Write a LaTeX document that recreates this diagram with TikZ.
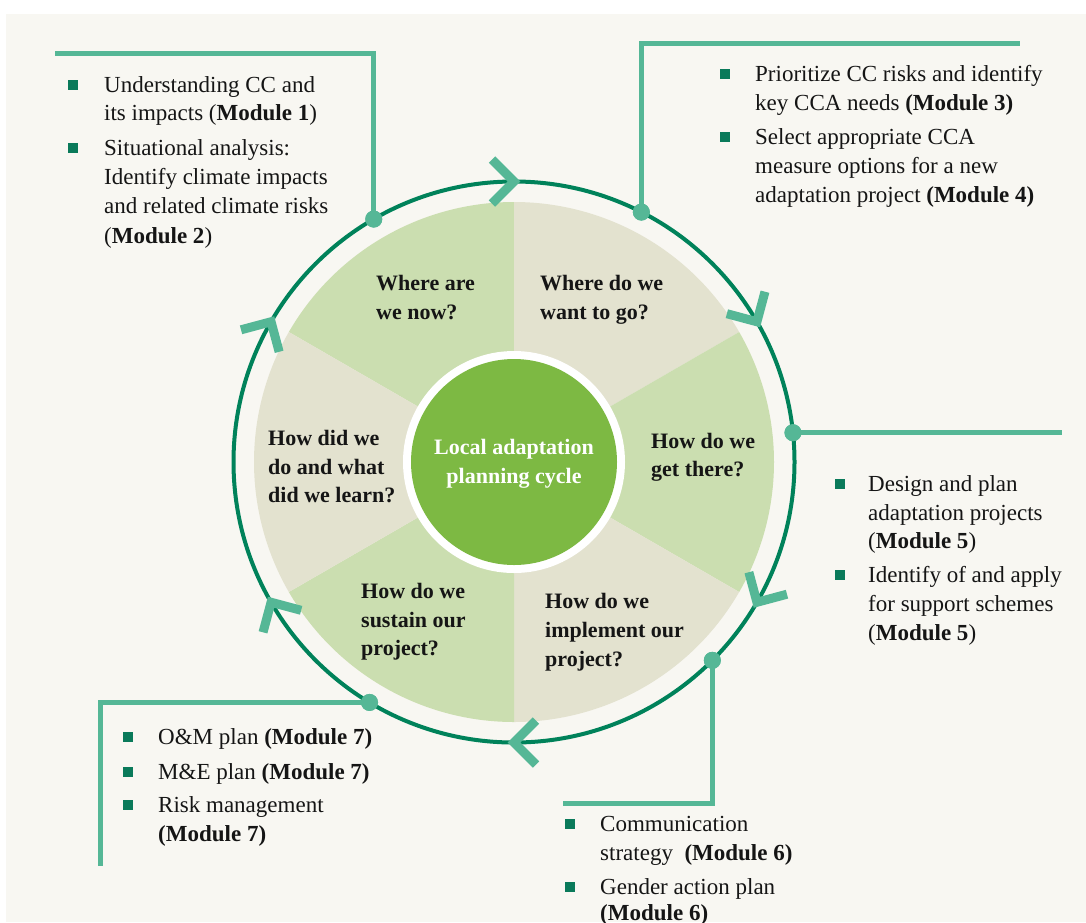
\documentclass[tikz,border=0pt]{standalone}
\usepackage{fontspec}
\setmainfont{Liberation Serif}
\definecolor{bgc}{HTML}{F8F7F2}
\definecolor{ringc}{HTML}{00825A}
\definecolor{tealc}{HTML}{55B796}
\definecolor{secg}{HTML}{CBDEB0}
\definecolor{secb}{HTML}{E3E2CF}
\definecolor{centg}{HTML}{7DB943}
\definecolor{bulc}{HTML}{0A7A5A}
\definecolor{txtc}{HTML}{151515}
\begin{document}
\begin{tikzpicture}[x=1pt,y=-1pt,
  txt/.style={anchor=base west, inner sep=0pt, text=txtc, font=\fontsize{23}{29}\selectfont},
  lab/.style={anchor=base west, inner sep=0pt, text=txtc, font=\fontsize{22}{29}\selectfont\bfseries},
  ctr/.style={anchor=base, inner sep=0pt, text=white, font=\fontsize{22}{29}\selectfont\bfseries},
  bul/.style={rectangle, fill=bulc, minimum size=10pt, inner sep=0pt},
  dotn/.style={circle, fill=tealc, minimum size=17pt, inner sep=0pt},
  conn/.style={draw=tealc, line width=5pt},
  chev/.style={draw=tealc, line width=9pt, miter limit=10}]
\useasboundingbox (0,0) rectangle (1086,922);
\fill[white] (0,0) rectangle (1086,922);
\fill[bgc] (6,14) rectangle (1086,922);

% pie and centre
\begin{scope}[shift={(514,462)}, yscale=-1]
  \foreach \s/\c in {90/secg,30/secb,-30/secg,-90/secb,-150/secg,150/secb}{
    \fill[\c] (0,0) -- (\s:260) arc[start angle=\s, end angle=\s+60, radius=260] -- cycle;
  }
  \fill[white] (0,0) circle[radius=111];
\end{scope}
\node[circle, fill=centg, minimum size=206pt, inner sep=0pt] (centre) at (514,462) {};
\node[circle, draw=ringc, line width=4pt, minimum size=561pt, inner sep=0pt, outer sep=0pt] (ring) at (514,462) {};

% chevrons (clockwise flow)
\begin{scope}[shift={(514,462)}, yscale=-1]
  \foreach \a in {90,30,-30,-90,-150,150}{
    \begin{scope}[shift={(\a:280.5)}, rotate=90-\a]
      \draw[chev] (-22,22) -- (0,0) -- (-22,-22);
    \end{scope}
  }
\end{scope}

% connectors
\node[dotn] (d1) at (ring.120) {};
\node[dotn] (d2) at (ring.63) {};
\node[dotn] (d3) at (ring.6) {};
\node[dotn] (d4) at (ring.-45) {};
\node[dotn] (d5) at (ring.239) {};
\coordinate (e1) at (55,53);
\coordinate (e2) at (1020,43);
\coordinate (e3) at (1062,432);
\coordinate (e4) at (563,803);
\coordinate (e5) at (100,866);
\draw[conn] (d1.center) |- (e1);
\draw[conn] (d2.center) |- (e2);
\draw[conn] (d3.center) -- (d3.center -| e3);
\draw[conn] (d4.center) |- (e4);
\draw[conn] (d5.center) -| (e5);
\node[dotn] at (d1) {};
\node[dotn] at (d2) {};
\node[dotn] at (d3) {};
\node[dotn] at (d4) {};
\node[dotn] at (d5) {};

% centre text
\node[ctr] (c1) at (514,454) {Local adaptation};
\node[ctr] (c2) at (514,483) {planning cycle};

% sector labels
\node[lab] (s1a) at (376,290) {Where are};
\node[lab] (s1b) at (376,319) {we now?};
\node[lab] (s2a) at (540,290) {Where do we};
\node[lab] (s2b) at (540,319) {want to go?};
\node[lab] (s3a) at (651,448) {How do we};
\node[lab] (s3b) at (651,476) {get there?};
\node[lab] (s4a) at (545,608) {How do we};
\node[lab] (s4b) at (545,637) {implement our};
\node[lab] (s4c) at (545,666) {project?};
\node[lab] (s5a) at (361,598) {How do we};
\node[lab] (s5b) at (361,627) {sustain our};
\node[lab] (s5c) at (361,655) {project?};
\node[lab] (s6a) at (268,445) {How did we};
\node[lab] (s6b) at (268,474) {do and what};
\node[lab] (s6c) at (268,502) {did we learn?};

% top-left block
\node[bul] (b1) at (73,85) {};
\node[bul] (b2) at (73,148) {};
\node[txt] (t1a) at (104,92) {Understanding CC and};
\node[txt] (t1b) at (104,120) {its impacts (\textbf{Module 1})};
\node[txt] (t2a) at (104,155) {Situational analysis:};
\node[txt] (t2b) at (104,184) {Identify climate impacts};
\node[txt] (t2c) at (104,213) {and related climate risks};
\node[txt] (t2d) at (104,243) {(\textbf{Module 2})};

% top-right block
\node[bul] (b3) at (725,74) {};
\node[bul] (b4) at (725,137) {};
\node[txt] (t3a) at (755,81) {Prioritize CC risks and identify};
\node[txt] (t3b) at (755,110) {key CCA needs \textbf{(Module 3)}};
\node[txt] (t4a) at (755,144) {Select appropriate CCA};
\node[txt] (t4b) at (755,173) {measure options for a new};
\node[txt] (t4c) at (755,202) {adaptation project \textbf{(Module 4)}};

% right block
\node[bul] (b5) at (840,484) {};
\node[bul] (b6) at (840,575) {};
\node[txt] (t5a) at (868,491) {Design and plan};
\node[txt] (t5b) at (868,520) {adaptation projects};
\node[txt] (t5c) at (868,548) {(\textbf{Module 5})};
\node[txt] (t6a) at (868,582) {Identify of and apply};
\node[txt] (t6b) at (868,611) {for support schemes};
\node[txt] (t6c) at (868,640) {(\textbf{Module 5})};

% bottom-left block
\node[bul] (b7) at (128,737) {};
\node[bul] (b8) at (128,772) {};
\node[bul] (b9) at (128,805) {};
\node[txt] (t7) at (158,744) {O\&M plan \textbf{(Module 7)}};
\node[txt] (t8) at (158,779) {M\&E plan \textbf{(Module 7)}};
\node[txt] (t9a) at (158,812) {Risk management};
\node[txt] (t9b) at (158,841) {\textbf{(Module 7)}};

% bottom-right block
\node[bul] (b10) at (570,824) {};
\node[bul] (b11) at (570,887) {};
\node[txt] (t10a) at (600,831) {Communication};
\node[txt] (t10b) at (600,860) {strategy\ \ \textbf{(Module 6)}};
\node[txt] (t11a) at (600,894) {Gender action plan};
\node[txt] (t11b) at (600,920) {\textbf{(Module 6)}};
\end{tikzpicture}
\end{document}
